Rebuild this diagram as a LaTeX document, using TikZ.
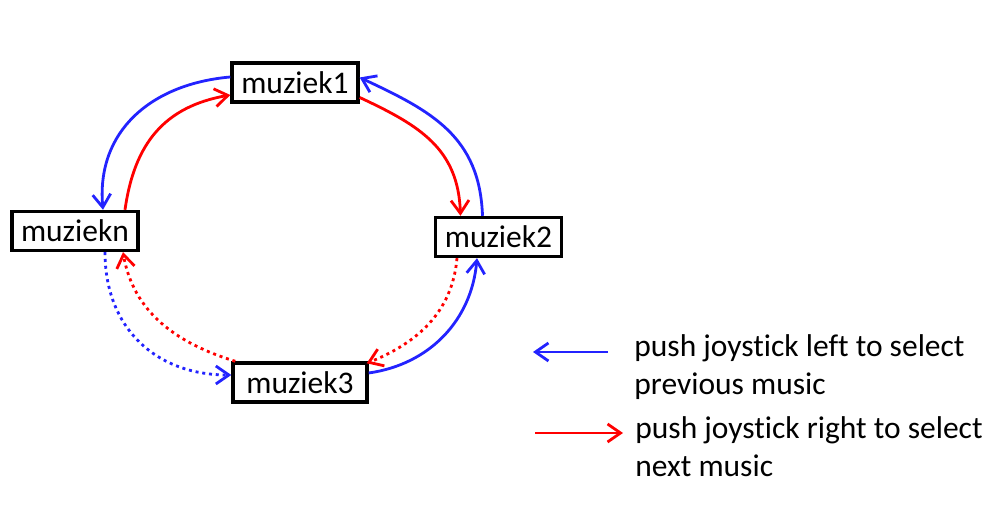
\documentclass[tikz,border=0pt]{standalone}
\usepackage{fontspec}
\setmainfont[Ligatures=NoCommon]{Carlito}
\usetikzlibrary{arrows.meta}
\definecolor{prevblue}{RGB}{35,35,255}
\definecolor{nextred}{RGB}{255,0,0}

\begin{document}
\begin{tikzpicture}[x=0.5pt, y=0.5pt, font=\fontsize{15.75}{19}\selectfont,
    muzbox/.style={draw, line width=1.7pt, inner xsep=3pt, inner ysep=0pt,
                   minimum width=63pt, minimum height=19.5pt},
    prevarrow/.style={draw=prevblue, line width=1.4pt,
                      -{Straight Barb[length=6.5pt, width=9pt]}},
    nextarrow/.style={draw=nextred, line width=1.4pt,
                      -{Straight Barb[length=6.5pt, width=9pt]}},
    wrapline/.style={dash pattern=on 1.5pt off 1.9pt}]
  \useasboundingbox (0,0) rectangle (996,512);

  % --- the music items, round a ring ---
  \node[muzbox] (m1) at (295,429.5) {muziek1};
  \node[muzbox] (mn) at (75,281) {muziekn};
  \node[muzbox] (m2) at (498.5,275) {muziek2};
  \node[muzbox, minimum width=67pt] (m3) at (300,129.5) {muziek3};

  % --- upper half: solid arrows ---
  \draw[prevarrow] ([yshift=2.75pt]m1.west) to[out=185, in=95, looseness=1.1]
    ([xshift=14pt]mn.north);
  \draw[nextarrow] ([xshift=25pt]mn.north) to[out=82, in=190, looseness=1.1]
    ([yshift=-6.25pt]m1.west);
  \draw[nextarrow] ([yshift=-7.5pt]m1.east) to[out=-25, in=92, looseness=1.1]
    ([xshift=-19pt]m2.north);
  \draw[prevarrow] ([xshift=-8pt]m2.north) to[out=92, in=-25, looseness=1.1]
    ([yshift=2.5pt]m1.east);

  % --- lower half: the skipped items are dotted ---
  \draw[prevarrow, wrapline] ([xshift=15pt]mn.south) to[out=-90, in=180, looseness=1.1]
    ([yshift=3.75pt]m3.west);
  \draw[nextarrow, wrapline] ([xshift=2pt]m3.north west) to[out=163, in=-80]
    ([xshift=24pt]mn.south);
  \draw[nextarrow, wrapline] ([xshift=-20.75pt]m2.south) to[out=-95, in=22]
    ([shift={(-1pt,-1pt)}]m3.north east);
  \draw[prevarrow] ([yshift=4.75pt]m3.east) to[out=8, in=-95]
    ([xshift=-10.75pt]m2.south);

  % --- legend ---
  \node[anchor=north west, align=left, inner sep=0pt] (prevtxt) at (634,178)
    {push joystick left to select\\previous music};
  \node[anchor=north west, align=left, inner sep=0pt] (nexttxt) at (635,96)
    {push joystick right to select\\next music};
  \coordinate (prevtail) at (608,160);
  \coordinate (prevtip) at (533,160);
  \coordinate (nexttail) at (535,79);
  \coordinate (nexttip) at (623,79);
  \draw[prevarrow] (prevtail) -- (prevtip);
  \draw[nextarrow] (nexttail) -- (nexttip);
\end{tikzpicture}
\end{document}
